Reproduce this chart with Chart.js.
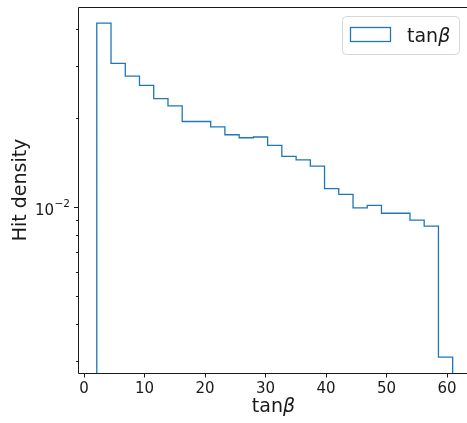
<!DOCTYPE html>
<html>
<head>
<meta charset="utf-8">
<script src="https://cdn.jsdelivr.net/npm/chart.js@4.4.1/dist/chart.umd.min.js"></script>
<style>
    html, body { margin: 0; padding: 0; background: #fff; overflow: hidden; }
    canvas { display: block; }
</style>
</head>
<body>
<canvas id="histChart" width="467" height="423"></canvas>
<script>
// histogram bin edges (tan beta) and hit density per bin
const binEdges = [2.10, 4.45, 6.81, 9.16, 11.51, 13.87, 16.22, 18.57, 20.93, 23.28, 25.63, 27.99, 30.34,
    32.69, 35.05, 37.40, 39.75, 42.10, 44.46, 46.81, 49.16, 51.52, 53.87, 56.22, 58.58, 60.93];
const hitDensity = [0.0417, 0.0305, 0.0276, 0.0257, 0.0232, 0.0219, 0.0194, 0.0194, 0.0186, 0.0175, 0.0171,
    0.0172, 0.0161, 0.0148, 0.0144, 0.0137, 0.0115, 0.0110, 0.0099, 0.0101, 0.0095, 0.0095, 0.0090, 0.0086, 0.0031];
const xTicks = [0, 10, 20, 30, 40, 50, 60];
const yTicks = [0.003, 0.004, 0.005, 0.006, 0.007, 0.008, 0.009, 0.01, 0.02, 0.03, 0.04];
const yMajor = [0.01];
const yMajorBase = ['10'];
const yMajorExp = ['−2'];
const xRange = [-0.84, 63.3];
const yRange = [0.00274, 0.0473];

const blue = '#1f77b4';
const ink = '#1a1a1a';
const font = 'DejaVu Sans';

// step outline points: up at the first edge, across each bin, down at the last edge
let points = [{x: binEdges[0], y: yRange[0]}];
hitDensity.forEach((v, i) => {
    points.push({x: binEdges[i], y: v});
});
points.push({x: binEdges[binEdges.length - 1], y: hitDensity[hitDensity.length - 1]});
points.push({x: binEdges[binEdges.length - 1], y: yRange[0]});

const drawTanBeta = (ctx, x, y, size, align) => {
    ctx.font = size + 'px "' + font + '"';
    let w1 = ctx.measureText('tan').width;
    ctx.font = 'italic ' + size + 'px "' + font + '"';
    let w2 = ctx.measureText('β').width;
    let start = align == 'center' ? x - (w1 + w2) / 2 : x;
    ctx.textAlign = 'left';
    ctx.textBaseline = 'alphabetic';
    ctx.fillStyle = ink;
    ctx.font = size + 'px "' + font + '"';
    ctx.fillText('tan', start, y);
    ctx.font = 'italic ' + size + 'px "' + font + '"';
    ctx.fillText('β', start + w1, y);
};

const decorations = {
    id: 'decorations',
    afterDraw(chart) {
        const {ctx, chartArea: {left, right, top, bottom}} = chart;
        const yScale = chart.scales.y;
        ctx.save();

        // spines: left, top, bottom (the right one is cut off in the original)
        let l = Math.round(left) - 0.5, t = Math.round(top) + 0.5, b = Math.round(bottom) + 0.5;
        ctx.strokeStyle = ink;
        ctx.lineWidth = 1;
        ctx.beginPath();
        ctx.moveTo(right + 2, t);
        ctx.lineTo(l, t);
        ctx.lineTo(l, b);
        ctx.lineTo(right + 2, b);
        ctx.stroke();

        // y ticks, minor ones shorter, major ones labelled as powers of ten
        yScale.ticks.forEach(tk => {
            let py = Math.round(yScale.getPixelForValue(tk.value)) + 0.5;
            let i = yMajor.indexOf(tk.value);
            let len = i >= 0 ? 4.5 : 2.5;
            ctx.strokeStyle = ink;
            ctx.beginPath();
            ctx.moveTo(l, py);
            ctx.lineTo(l - len, py);
            ctx.stroke();
            if (i >= 0) {
                ctx.fillStyle = ink;
                ctx.textBaseline = 'alphabetic';
                ctx.textAlign = 'right';
                ctx.font = '10.5px "' + font + '"';
                let ew = ctx.measureText(yMajorExp[i]).width;
                let ex = left - 9;
                ctx.fillText(yMajorExp[i], ex, py - 0.5);
                ctx.font = '15px "' + font + '"';
                ctx.fillText(yMajorBase[i], ex - ew - 0.5, py + 7);
            }
        });

        // axis labels
        drawTanBeta(ctx, 273.5, 412, 19, 'center');
        ctx.save();
        ctx.translate(26, (top + bottom) / 2);
        ctx.rotate(-Math.PI / 2);
        ctx.font = '19px "' + font + '"';
        ctx.textAlign = 'center';
        ctx.textBaseline = 'alphabetic';
        ctx.fillStyle = ink;
        ctx.fillText('Hit density', 0, 0);
        ctx.restore();

        // legend
        let lx = right - 124.5, ly = top + 9.5, lw = 117, lh = 38;
        ctx.beginPath();
        ctx.roundRect(lx, ly, lw, lh, 4);
        ctx.fillStyle = 'rgba(255,255,255,0.8)';
        ctx.fill();
        ctx.strokeStyle = '#d6d6d6';
        ctx.lineWidth = 1;
        ctx.stroke();
        ctx.strokeStyle = blue;
        ctx.lineWidth = 1.3;
        ctx.strokeRect(lx + 8, ly + 11, 40, 14);
        drawTanBeta(ctx, lx + 64.5, ly + 25, 19, 'left');

        ctx.restore();
    }
};

const config = {
    type: 'line',
    data: {
        datasets: [{
            label: 'tanβ',
            data: points,
            stepped: true,
            borderColor: blue,
            borderWidth: 1.3,
            pointRadius: 0,
            fill: false,
            tension: 0
        }]
    },
    options: {
        responsive: false,
        animation: false,
        events: [],
        layout: {
            autoPadding: false,
            padding: {left: 0, top: 7, right: 0, bottom: 0}
        },
        scales: {
            x: {
                type: 'linear',
                min: xRange[0],
                max: xRange[1],
                afterFit(scale) { scale.height = 50; },
                afterBuildTicks(scale) { scale.ticks = xTicks.map(v => ({value: v})); },
                border: {display: false},
                grid: {
                    display: true,
                    drawOnChartArea: false,
                    drawTicks: true,
                    tickLength: 4.5,
                    tickColor: ink
                },
                ticks: {
                    autoSkip: false,
                    maxRotation: 0,
                    padding: 3,
                    color: ink,
                    font: {family: font, size: 15}
                }
            },
            y: {
                type: 'logarithmic',
                min: yRange[0],
                max: yRange[1],
                afterFit(scale) { scale.width = 79; },
                afterBuildTicks(scale) { scale.ticks = yTicks.map(v => ({value: v})); },
                border: {display: false},
                grid: {display: false, drawTicks: false},
                ticks: {
                    autoSkip: false,
                    display: false
                }
            }
        },
        plugins: {
            legend: {display: false},
            tooltip: {enabled: false}
        }
    },
    plugins: [decorations]
};

const histChart = new Chart(document.getElementById('histChart'), config);
</script>
</body>
</html>
